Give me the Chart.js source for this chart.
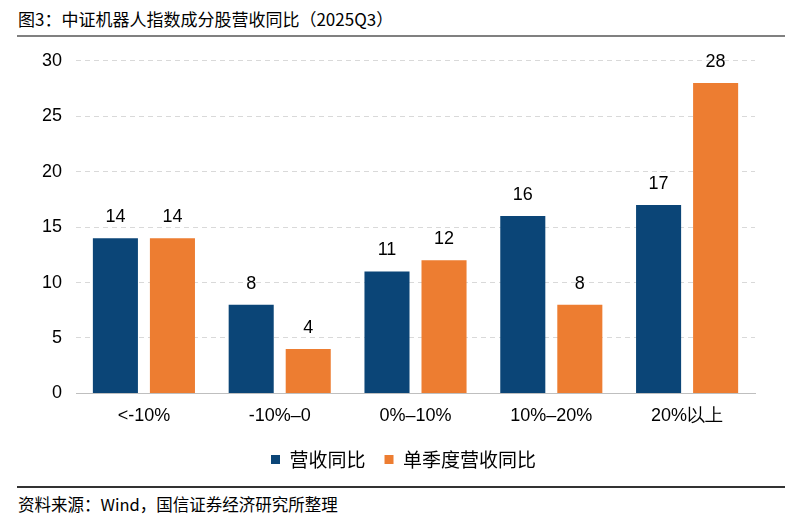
<!DOCTYPE html>
<html>
<head>
<meta charset="utf-8">
<script src="https://cdn.jsdelivr.net/npm/chart.js@4"></script>
<style>
  body { margin: 0; background: #fff; font-family: "Noto Sans CJK SC", "Liberation Sans", sans-serif; }
  #page { position: relative; width: 807px; height: 526px; }
  #title { position: absolute; left: 18px; top: 6px; font-size: 17px; color: #000; }
  #topline { position: absolute; left: 17px; width: 768px; top: 35px; height: 2px; background: #808080; }
  #box { position: absolute; left: 0; top: 36px; width: 807px; height: 443px; }
  #botline { position: absolute; left: 17px; width: 768px; top: 486px; height: 2px; background: #333; }
  #source { position: absolute; left: 18px; top: 492px; font-size: 16.5px; color: #000; }
</style>
</head>
<body>
<div id="page">
  <div id="title">图3：中证机器人指数成分股营收同比（2025Q3）</div>
  <div id="topline"></div>
  <div id="box"><canvas id="barChart"></canvas></div>
  <div id="botline"></div>
  <div id="source">资料来源：Wind，国信证券经济研究所整理</div>
</div>
<script>
var categories = ["<-10%", "-10%–0", "0%–10%", "10%–20%", "20%以上"];
var yoyRevenue = [14, 8, 11, 16, 17];
var quarterRevenue = [14, 4, 12, 8, 28];
var yTicks = [0, 5, 10, 15, 20, 25, 30];

var valueLabels = {
  id: 'valueLabels',
  afterDatasetsDraw: function(chart) {
    var ctx = chart.ctx;
    ctx.save();
    ctx.font = '18px "Liberation Sans", Arial, sans-serif';
    ctx.fillStyle = '#000';
    ctx.textAlign = 'center';
    ctx.textBaseline = 'bottom';
    chart.data.datasets.forEach(function(ds, i) {
      chart.getDatasetMeta(i).data.forEach(function(bar, j) {
        ctx.fillText(ds.data[j], bar.x, bar.y - 12);
      });
    });
    ctx.restore();
  }
};

// nudge the legend a bit left of the plot centre, like the original
var legendShift = {
  id: 'legendShift',
  afterLayout: function(chart) {
    chart.legend.left -= 12;
    chart.legend.right -= 12;
  }
};

var ctxB = document.getElementById("barChart").getContext('2d');
var myBarChart = new Chart(ctxB, {
  type: 'bar',
  data: {
    labels: categories,
    datasets: [{
        label: "营收同比",
        data: yoyRevenue,
        backgroundColor: '#0b4577'
      },
      {
        label: "单季度营收同比",
        data: quarterRevenue,
        backgroundColor: '#ed7d31'
      }
    ]
  },
  options: {
    responsive: true,
    maintainAspectRatio: false,
    animation: false,
    layout: { padding: { left: 28, right: 52, top: 6, bottom: 0 } },
    datasets: { bar: { categoryPercentage: 0.84, barPercentage: 0.79 } },
    plugins: {
      tooltip: { enabled: false },
      legend: {
        position: 'bottom',
        fullSize: false,
        labels: {
          font: { size: 19, family: '"Noto Sans CJK SC", sans-serif' },
          color: '#000',
          boxWidth: 9,
          boxHeight: 9,
          padding: 19
        }
      }
    },
    scales: {
      x: {
        grid: { display: false },
        border: { color: '#bfbfbf' },
        ticks: { color: '#000', font: { size: 18, family: '"Liberation Sans", Arial, sans-serif' }, padding: 4 }
      },
      y: {
        min: 0,
        max: 30,
        afterBuildTicks: function(axis) { axis.ticks = yTicks.map(function(v) { return { value: v }; }); },
        grid: { color: '#d9d9d9', drawTicks: false },
        border: { display: false, dash: [5, 4] },
        ticks: { color: '#000', font: { size: 18, family: '"Liberation Sans", Arial, sans-serif' }, padding: 14 }
      }
    }
  },
  plugins: [valueLabels, legendShift]
});
</script>
</body>
</html>
